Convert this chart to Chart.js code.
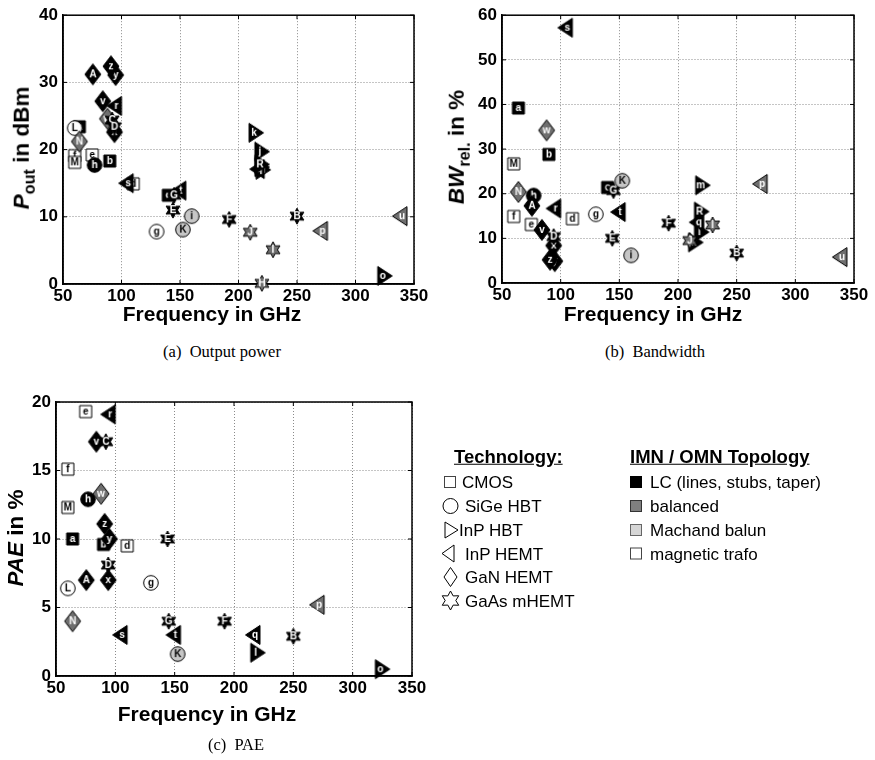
<!DOCTYPE html>
<html><head><meta charset="utf-8">
<script src="https://cdn.jsdelivr.net/npm/chart.js@4.4.1/dist/chart.umd.min.js"></script>
<style>
body{margin:0;background:#fff;width:875px;height:760px;position:relative;overflow:hidden;font-family:"Liberation Sans",Arial,sans-serif;color:#000;}
canvas{position:absolute;}
.t{position:absolute;font-weight:bold;font-size:21px;white-space:nowrap;line-height:1;}
.yt{transform:translate(-50%,-50%) rotate(-90deg);font-size:22.5px;}
.xt{transform:translate(-50%,-50%);}
.t sub{font-size:0.72em;vertical-align:-0.35em;line-height:0;}
.cap{position:absolute;font-family:"Liberation Serif","Times New Roman",serif;font-size:16.5px;transform:translate(-50%,-50%);white-space:nowrap;}
.lg{position:absolute;font-size:17px;transform:translateY(-50%);white-space:nowrap;line-height:1;}
.lh{font-weight:bold;text-decoration:underline;font-size:18.5px;}
svg{position:absolute;left:0;top:0;}
</style>
</head>
<body>
<canvas id="ca" width="437" height="330" style="left:0;top:0"></canvas>
<canvas id="cb" width="438" height="330" style="left:437px;top:0"></canvas>
<canvas id="cc" width="437" height="340" style="left:0;top:380px"></canvas>

<div class="t xt" style="left:212px;top:313px">Frequency in GHz</div>
<div class="t xt" style="left:653px;top:313px">Frequency in GHz</div>
<div class="t xt" style="left:207px;top:713px">Frequency in GHz</div>
<div class="t yt" style="left:22px;top:148px"><i>P</i><sub>out</sub> in dBm</div>
<div class="t yt" style="left:457px;top:147px"><i>BW</i><sub>rel.</sub> in %</div>
<div class="t yt" style="left:16px;top:538px"><i>PAE</i> in %</div>

<div class="cap" style="left:222px;top:352px">(a)&nbsp; Output power</div>
<div class="cap" style="left:655px;top:352px">(b)&nbsp; Bandwidth</div>
<div class="cap" style="left:236px;top:745px">(c)&nbsp; PAE</div>

<svg width="875" height="760">
  <rect x="444.5" y="476.5" width="11" height="11" fill="#fff" stroke="#444" stroke-width="1"/>
  <circle cx="450.5" cy="506" r="7.5" fill="#fff" stroke="#000" stroke-width="1"/>
  <polygon points="445,522 458,530 445,538" fill="#fff" stroke="#000" stroke-width="1"/>
  <polygon points="454,545 442,553.5 454,562" fill="#fff" stroke="#000" stroke-width="1"/>
  <polygon points="450.5,567.5 457,577 450.5,586.5 444,577" fill="#fff" stroke="#000" stroke-width="1"/>
  <polygon id="lstar" fill="#fff" stroke="#000" stroke-width="1"/>
  <rect x="630.5" y="476.5" width="11" height="11" fill="#000" stroke="#000"/>
  <rect x="630.5" y="500.5" width="11" height="11" fill="#7f7f7f" stroke="#333"/>
  <rect x="630.5" y="524.5" width="11" height="11" fill="#d6d6d6" stroke="#666"/>
  <rect x="630.5" y="548" width="11" height="11" fill="#fff" stroke="#444"/>
</svg>
<div class="lg lh" style="left:454px;top:457px">Technology:</div>
<div class="lg" style="left:462px;top:482px">CMOS</div>
<div class="lg" style="left:465px;top:506px">SiGe HBT</div>
<div class="lg" style="left:459px;top:530px">InP HBT</div>
<div class="lg" style="left:465px;top:553.5px">InP HEMT</div>
<div class="lg" style="left:465px;top:577px">GaN HEMT</div>
<div class="lg" style="left:465px;top:600.5px">GaAs mHEMT</div>
<div class="lg lh" style="left:630px;top:457px">IMN / OMN Topology</div>
<div class="lg" style="left:650px;top:482px">LC (lines, stubs, taper)</div>
<div class="lg" style="left:650px;top:506px">balanced</div>
<div class="lg" style="left:650px;top:530px">Machand balun</div>
<div class="lg" style="left:650px;top:553.5px">magnetic trafo</div>

<script>
// ---- data ----
const refLetters = ['a','b','c','d','e','f','g','h','i','j','k','l','m','o','p','q','r','s','t','u','v','w','x','y','z','A','B','C','D','E','F','G','H','I','J','K','L','M','N','R'];
const freqGHz    = [64, 90, 140, 110, 75, 60, 130, 77, 160, 220, 215, 220, 221, 325, 270, 216, 94, 104, 149, 338, 84, 88, 94, 95, 91, 75.5, 250, 92, 94, 144, 192, 145, 220, 229.5, 210, 152.5, 60, 60, 64, 220];
const technology = ['CMOS','CMOS','CMOS','CMOS','CMOS','CMOS','SiGe HBT','SiGe HBT','SiGe HBT','InP HBT','InP HBT','InP HBT','InP HBT','InP HBT','InP HEMT','InP HEMT','InP HEMT','InP HEMT','InP HEMT','InP HEMT','GaN HEMT','GaN HEMT','GaN HEMT','GaN HEMT','GaN HEMT','GaN HEMT','GaAs mHEMT','GaAs mHEMT','GaAs mHEMT','GaAs mHEMT','GaAs mHEMT','GaAs mHEMT','GaAs mHEMT','GaAs mHEMT','GaAs mHEMT','SiGe HBT','SiGe HBT','CMOS','GaN HEMT','InP HBT'];
const topology   = ['LC','LC','LC','trafo','trafo','trafo','trafo','LC','machand','LC','LC','LC','LC','LC','balanced','LC','LC','LC','LC','balanced','LC','balanced','LC','LC','LC','LC','LC','LC','LC','LC','LC','LC','balanced','balanced','balanced','machand','trafo','trafo','balanced','LC'];
const poutDbm    = [23.4, 18.3, 13.2, 14.9, 19.2, 19.1, 7.8, 17.7, 10.1, 19.7, 22.5, 17.4, 17.0, 1.2, 7.9, 17.1, 26.5, 15.0, 13.9, 10.1, 27.2, 24.6, 22.6, 31.1, 32.4, 31.2, 10.1, 24.4, 23.4, 11.0, 9.6, 13.2, 0.1, 5.1, 7.7, 8.1, 23.2, 18.1, 21.2, 17.8];
const bwPercent  = [39.2, 28.8, 21.4, 14.4, 13.1, 14.9, 15.4, 19.6, 6.2, null, 9.1, 11.4, 21.9, null, 22.2, 13.6, 16.7, 57.2, 15.9, 5.8, 11.9, 34.2, 8.4, 4.9, 5.2, 17.3, 6.7, null, 10.4, 10.0, 13.4, 20.7, null, 13.0, 9.5, 22.9, null, 26.7, 20.4, 16.0];
const paePercent = [10.0, 9.6, null, 9.5, 19.3, 15.1, 6.8, 12.9, null, null, null, 1.7, null, 0.5, 5.2, 3.0, 19.1, 3.0, 3.0, null, 17.1, 13.3, 7.0, 10.0, 11.1, 7.0, 2.9, 17.1, 8.1, 10.0, 4.0, 4.0, null, null, null, 1.6, 6.4, 12.3, 4.0, null];
const freqTicks  = [50, 100, 150, 200, 250, 300, 350];
const poutTicks  = [0, 10, 20, 30, 40];
const bwTicks    = [0, 10, 20, 30, 40, 50, 60];
const paeTicks   = [0, 5, 10, 15, 20];

// ---- styling ----
const fillColor = {LC:'#000000', balanced:'#6f6f6f', machand:'#c6c6c6', trafo:'#ffffff'};
const textColor = {LC:'#ffffff', balanced:'#ffffff', machand:'#000000', trafo:'#000000'};

function makeMarker(tech, topo, letter){
  const S = 26, c = document.createElement('canvas');
  c.width = S; c.height = S;
  const g = c.getContext('2d'); const cx = S/2, cy = S/2;
  let lx = cx, ly = cy;
  g.beginPath();
  if (tech === 'CMOS') { g.rect(cx-6, cy-6, 12, 12); }
  else if (tech === 'SiGe HBT') { g.arc(cx, cy, 7.3, 0, Math.PI*2); }
  else if (tech === 'InP HBT') { g.moveTo(cx-7, cy-9.5); g.lineTo(cx+7.5, cy); g.lineTo(cx-7, cy+9.5); g.closePath(); lx = cx-2; }
  else if (tech === 'InP HEMT') { g.moveTo(cx+7, cy-9.5); g.lineTo(cx-7.5, cy); g.lineTo(cx+7, cy+9.5); g.closePath(); lx = cx+2; }
  else if (tech === 'GaN HEMT') { g.moveTo(cx, cy-10.5); g.lineTo(cx+8, cy); g.lineTo(cx, cy+10.5); g.lineTo(cx-8, cy); g.closePath(); }
  else { for (let k=0;k<12;k++){ const a=-Math.PI/2+k*Math.PI/6, r=(k%2)?4.4:8; const px=cx+r*Math.cos(a), py=cy+r*Math.sin(a); if(k===0) g.moveTo(px,py); else g.lineTo(px,py);} g.closePath(); }
  g.fillStyle = fillColor[topo]; g.fill();
  g.strokeStyle = '#000'; g.lineWidth = 1; g.stroke();
  g.fillStyle = textColor[topo];
  g.font = 'bold 10px "Liberation Sans", Arial, sans-serif';
  g.textAlign = 'center'; g.textBaseline = 'middle';
  g.fillText(letter, lx, ly + 0.5);
  return c;
}

// legend star
(function(){
  const pts=[]; for(let k=0;k<12;k++){const a=-Math.PI/2+k*Math.PI/6, r=(k%2)?5.3:9.5; pts.push((450.5+r*Math.cos(a)).toFixed(2)+','+(600.5+r*Math.sin(a)).toFixed(2));}
  document.getElementById('lstar').setAttribute('points', pts.join(' '));
})();

const boxPlugin = {
  id: 'box',
  beforeDatasetsDraw(chart){
    const {ctx, chartArea:{left,right,top,bottom}, scales:{x,y}} = chart;
    ctx.save();
    ctx.strokeStyle = '#000'; ctx.lineWidth = 1;
    ctx.beginPath();
    x.ticks.forEach(t => { const px = x.getPixelForValue(t.value); ctx.moveTo(px,bottom); ctx.lineTo(px,bottom-4); ctx.moveTo(px,top); ctx.lineTo(px,top+4); });
    y.ticks.forEach(t => { const py = y.getPixelForValue(t.value); ctx.moveTo(left,py); ctx.lineTo(left+4,py); ctx.moveTo(right,py); ctx.lineTo(right-4,py); });
    ctx.stroke();
    ctx.lineWidth = 1.5;
    ctx.strokeRect(left, top, right-left, bottom-top);
    ctx.restore();
  }
};

const tickFont = {family:'"Liberation Sans", Arial, sans-serif', weight:'bold', size:17};

function build(id, values, yTicks, yMax, pad, yW, xH){
  const pts = [], styles = [];
  refLetters.forEach((L, i) => {
    if (values[i] === null) return;
    pts.push({x: freqGHz[i], y: values[i]});
    styles.push(makeMarker(technology[i], topology[i], L));
  });
  new Chart(document.getElementById(id), {
    type: 'scatter',
    data: { datasets: [{ data: pts, pointStyle: styles, pointRadius: 9, clip: false }] },
    options: {
      responsive: false, animation: false, events: [],
      devicePixelRatio: 1,
      layout: { padding: pad },
      plugins: { legend: {display:false}, tooltip: {enabled:false} },
      scales: {
        x: {
          type: 'linear', min: freqTicks[0], max: freqTicks[freqTicks.length-1],
          afterBuildTicks: s => { s.ticks = freqTicks.map(v => ({value:v})); },
          afterFit: s => { s.height = xH; },
          ticks: { font: tickFont, color:'#000', padding: 2, maxRotation: 0 },
          grid: { color:'#8a8a8a', lineWidth:1, drawTicks:false },
          border: { display:true, color:'#000', width:1.5, dash:[1,2] }
        },
        y: {
          type: 'linear', min: 0, max: yMax,
          afterBuildTicks: s => { s.ticks = yTicks.map(v => ({value:v})); },
          afterFit: s => { s.width = yW; },
          ticks: { font: tickFont, color:'#000', padding: 5 },
          grid: { color:'#8a8a8a', lineWidth:1, drawTicks:false },
          border: { display:true, color:'#000', width:1.5, dash:[1,2] }
        }
      }
    },
    plugins: [boxPlugin]
  });
}

build('ca', poutDbm, poutTicks, 40, {left:0, top:12, right:23, bottom:0}, 63, 46);
build('cb', bwPercent, bwTicks, 60, {left:0, top:12, right:21, bottom:0}, 65, 47);
build('cc', paePercent, paeTicks, 20, {left:0, top:22, right:25, bottom:0}, 56, 44);
</script>
</body></html>
